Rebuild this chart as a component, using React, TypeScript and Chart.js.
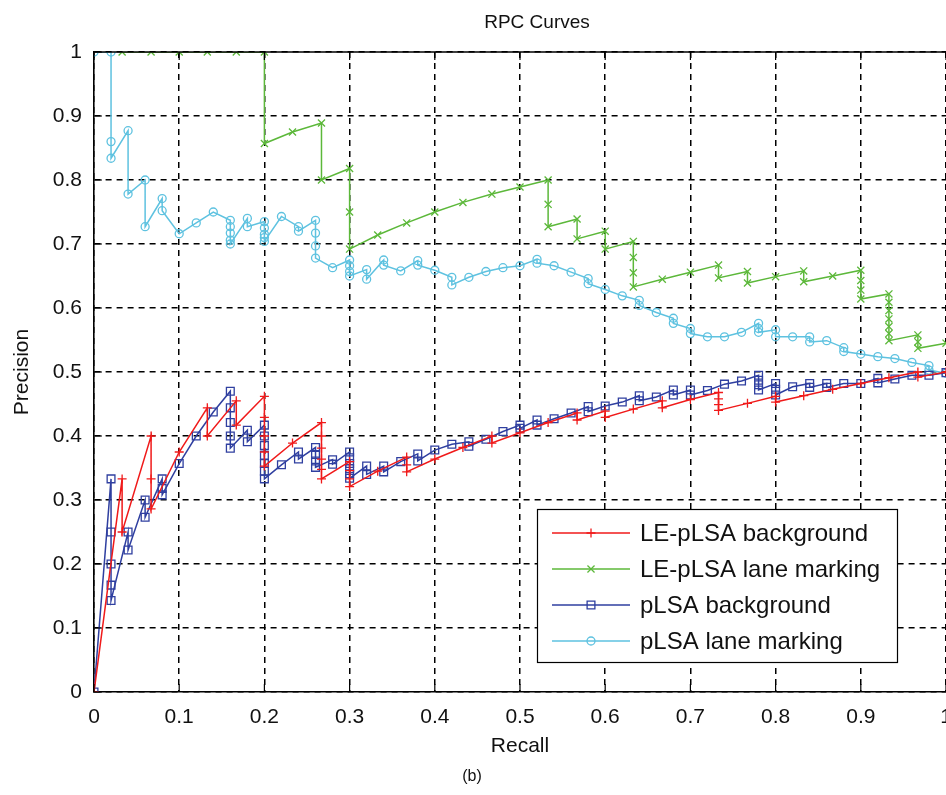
import React, { useEffect, useRef } from "react";
import { Chart, registerables } from "chart.js";

Chart.register(...registerables);

const FONT = '"Liberation Sans", Arial, Helvetica, sans-serif';
const TITLE = "RPC Curves";
const X_LABEL = "Recall";
const Y_LABEL = "Precision";
const CAPTION = "(b)";

const xTicks = [0, 0.1, 0.2, 0.3, 0.4, 0.5, 0.6, 0.7, 0.8, 0.9, 1];
const yTicks = [0, 0.1, 0.2, 0.3, 0.4, 0.5, 0.6, 0.7, 0.8, 0.9, 1];

const seriesNames = [
  "LE-pLSA background",
  "LE-pLSA lane marking",
  "pLSA background",
  "pLSA lane marking",
];
const seriesColors = ["#f01a1a", "#5cb83a", "#2f3fa0", "#5ec2e0"];
const seriesMarkers = ["cross", "crossRot", "rect", "circle"];

// LE-pLSA background (red, +)
const leBgRecall = [
  0, 0.033, 0.033, 0.067, 0.067, 0.067, 0.1, 0.133, 0.133, 0.167, 0.167,
  0.2, 0.2, 0.2, 0.2, 0.2, 0.233, 0.267, 0.267, 0.267, 0.267, 0.267, 0.267,
  0.3, 0.3, 0.3, 0.3, 0.333, 0.367, 0.367, 0.367, 0.4, 0.433, 0.467, 0.467,
  0.5, 0.533, 0.567, 0.567, 0.6, 0.6, 0.633, 0.667, 0.667, 0.7, 0.733, 0.733,
  0.733, 0.733, 0.767, 0.8, 0.8, 0.833, 0.867, 0.9, 0.933, 0.967, 0.967, 1,
];
const leBgPrecision = [
  0, 0.333, 0.25, 0.4, 0.333, 0.286, 0.375, 0.444, 0.4, 0.455, 0.417,
  0.462, 0.429, 0.4, 0.375, 0.353, 0.389, 0.421, 0.4, 0.381, 0.364, 0.348, 0.333,
  0.36, 0.346, 0.333, 0.321, 0.345, 0.367, 0.355, 0.344, 0.364, 0.382, 0.4, 0.389,
  0.405, 0.421, 0.436, 0.425, 0.439, 0.429, 0.442, 0.455, 0.444, 0.457, 0.468, 0.458,
  0.449, 0.44, 0.451, 0.462, 0.453, 0.463, 0.473, 0.482, 0.491, 0.5, 0.492, 0.5,
];

// LE-pLSA lane marking (green, x)
const leLaneRecall = [
  0.033, 0.067, 0.1, 0.133, 0.167, 0.2, 0.2, 0.233, 0.267, 0.267, 0.3, 0.3, 0.3,
  0.333, 0.367, 0.4, 0.433, 0.467, 0.5, 0.533, 0.533, 0.533, 0.567, 0.567, 0.6,
  0.6, 0.633, 0.633, 0.633, 0.633, 0.667, 0.7, 0.733, 0.733, 0.767, 0.767, 0.8,
  0.833, 0.833, 0.867, 0.9, 0.9, 0.9, 0.9, 0.933, 0.933, 0.933, 0.933, 0.933,
  0.933, 0.933, 0.967, 0.967, 0.967, 1,
];
const leLanePrecision = [
  1, 1, 1, 1, 1, 1, 0.857, 0.875, 0.889, 0.8, 0.818, 0.75, 0.692,
  0.714, 0.733, 0.75, 0.765, 0.778, 0.789, 0.8, 0.762, 0.727, 0.739, 0.708, 0.72,
  0.692, 0.704, 0.679, 0.655, 0.633, 0.645, 0.656, 0.667, 0.647, 0.657, 0.639, 0.649,
  0.658, 0.641, 0.65, 0.659, 0.643, 0.628, 0.614, 0.622, 0.609, 0.596, 0.583, 0.571,
  0.56, 0.549, 0.558, 0.547, 0.537, 0.545,
];

// pLSA background (dark blue, squares)
const pBgRecall = [
  0, 0.02, 0.02, 0.02, 0.02, 0.02, 0.04, 0.04, 0.06, 0.06, 0.08, 0.08, 0.08,
  0.1, 0.12, 0.14, 0.16, 0.16, 0.16, 0.16, 0.16, 0.18, 0.18, 0.2, 0.2, 0.2, 0.2,
  0.2, 0.2, 0.2, 0.22, 0.24, 0.24, 0.26, 0.26, 0.26, 0.26, 0.28, 0.28, 0.3, 0.3,
  0.3, 0.3, 0.3, 0.3, 0.32, 0.32, 0.34, 0.34, 0.36, 0.38, 0.38, 0.4, 0.42, 0.44,
  0.44, 0.46, 0.48, 0.5, 0.5, 0.52, 0.52, 0.54, 0.56, 0.58, 0.58, 0.6, 0.62, 0.64,
  0.64, 0.66, 0.68, 0.68, 0.7, 0.7, 0.72, 0.74, 0.76, 0.78, 0.78, 0.78, 0.78, 0.8,
  0.8, 0.8, 0.82, 0.84, 0.84, 0.86, 0.86, 0.88, 0.9, 0.92, 0.92, 0.94, 0.96, 0.98, 1,
];
const pBgPrecision = [
  0, 0.333, 0.25, 0.2, 0.167, 0.143, 0.25, 0.222, 0.3, 0.273, 0.333, 0.318, 0.308,
  0.357, 0.4, 0.4375, 0.47, 0.444, 0.421, 0.4, 0.381, 0.409, 0.391, 0.417, 0.4, 0.385,
  0.37, 0.357, 0.345, 0.333, 0.355, 0.375, 0.364, 0.382, 0.371, 0.361, 0.351, 0.363, 0.356,
  0.375, 0.366, 0.357, 0.349, 0.341, 0.334, 0.353, 0.34, 0.353, 0.344, 0.36, 0.372, 0.361,
  0.378, 0.387, 0.391, 0.384, 0.395, 0.407, 0.417, 0.412, 0.425, 0.417, 0.427, 0.436,
  0.446, 0.438, 0.447, 0.453, 0.463, 0.455, 0.461, 0.472, 0.464, 0.472, 0.464, 0.471,
  0.481, 0.486, 0.495, 0.487, 0.48, 0.472, 0.482, 0.473, 0.464, 0.477, 0.482, 0.476,
  0.482, 0.476, 0.482, 0.482, 0.49, 0.483, 0.489, 0.495, 0.495, 0.499,
];

// pLSA lane marking (light blue, circles)
const pLaneRecall = [
  0, 0.02, 0.02, 0.02, 0.04, 0.04, 0.06, 0.06, 0.08, 0.08, 0.1, 0.12, 0.14, 0.16,
  0.16, 0.16, 0.16, 0.16, 0.18, 0.18, 0.2, 0.2, 0.2, 0.2, 0.2, 0.22, 0.24, 0.24,
  0.26, 0.26, 0.26, 0.26, 0.28, 0.3, 0.3, 0.3, 0.3, 0.32, 0.32, 0.34, 0.34, 0.36,
  0.38, 0.38, 0.4, 0.42, 0.42, 0.44, 0.46, 0.48, 0.5, 0.52, 0.52, 0.54, 0.56, 0.58,
  0.58, 0.6, 0.62, 0.64, 0.64, 0.66, 0.68, 0.68, 0.7, 0.7, 0.72, 0.74, 0.76, 0.78,
  0.78, 0.78, 0.8, 0.8, 0.82, 0.84, 0.84, 0.86, 0.88, 0.88, 0.9, 0.92, 0.94, 0.96,
  0.98, 0.98, 1,
];
const pLanePrecision = [
  1, 1, 0.86, 0.834, 0.877, 0.778, 0.8, 0.727, 0.771, 0.752, 0.716, 0.733, 0.75, 0.737,
  0.727, 0.717, 0.706, 0.7, 0.74, 0.727, 0.735, 0.725, 0.715, 0.71, 0.704, 0.743, 0.727, 0.72,
  0.737, 0.717, 0.697, 0.678, 0.663, 0.675, 0.666, 0.657, 0.65, 0.66, 0.645, 0.675, 0.667, 0.658,
  0.674, 0.667, 0.659, 0.648, 0.636, 0.648, 0.657, 0.663, 0.666, 0.676, 0.67, 0.666, 0.656, 0.646,
  0.638, 0.629, 0.619, 0.612, 0.604, 0.593, 0.584, 0.576, 0.568, 0.56, 0.555, 0.555, 0.562, 0.576,
  0.568, 0.562, 0.566, 0.555, 0.555, 0.555, 0.547, 0.549, 0.538, 0.532, 0.528, 0.524, 0.521, 0.515,
  0.51, 0.503, 0.498,
];

const seriesRecall = [leBgRecall, leLaneRecall, pBgRecall, pLaneRecall];
const seriesPrecision = [leBgPrecision, leLanePrecision, pBgPrecision, pLanePrecision];
const markerRadius = [4.5, 5, 5.5, 4];

function fmt(v: number): string {
  return String(Math.round(v * 10) / 10);
}

function drawMarker(ctx: CanvasRenderingContext2D, style: string, x: number, y: number, r: number, color: string) {
  ctx.save();
  ctx.strokeStyle = color;
  ctx.lineWidth = 1.3;
  ctx.beginPath();
  if (style === "cross") {
    ctx.moveTo(x - r, y); ctx.lineTo(x + r, y);
    ctx.moveTo(x, y - r); ctx.lineTo(x, y + r);
  } else if (style === "crossRot") {
    const d = r * Math.SQRT1_2;
    ctx.moveTo(x - d, y - d); ctx.lineTo(x + d, y + d);
    ctx.moveTo(x - d, y + d); ctx.lineTo(x + d, y - d);
  } else if (style === "rect") {
    const s = r * Math.SQRT1_2;
    ctx.rect(x - s, y - s, 2 * s, 2 * s);
  } else {
    ctx.arc(x, y, r, 0, Math.PI * 2);
  }
  ctx.stroke();
  ctx.restore();
}

const decorPlugin = {
  id: "decor",
  beforeDraw(chart: any) {
    const ctx = chart.ctx;
    ctx.save();
    ctx.fillStyle = "#ffffff";
    ctx.fillRect(0, 0, chart.width, chart.height);
    ctx.restore();
  },
  afterDraw(chart: any) {
    const ctx: CanvasRenderingContext2D = chart.ctx;
    const { left, right, top, bottom } = chart.chartArea;
    const xs = chart.scales.x;
    const ys = chart.scales.y;
    ctx.save();
    // frame top line
    ctx.strokeStyle = "#000";
    ctx.lineWidth = 1.6;
    ctx.beginPath();
    ctx.moveTo(left, top);
    ctx.lineTo(right, top);
    ctx.stroke();
    // inward ticks
    ctx.lineWidth = 1.2;
    ctx.beginPath();
    xTicks.forEach((t) => {
      const px = xs.getPixelForValue(t);
      ctx.moveTo(px, top); ctx.lineTo(px, top + 8);
      ctx.moveTo(px, bottom); ctx.lineTo(px, bottom - 8);
    });
    yTicks.forEach((t) => {
      const py = ys.getPixelForValue(t);
      ctx.moveTo(left, py); ctx.lineTo(left + 8, py);
    });
    ctx.stroke();

    // title and axis titles
    ctx.fillStyle = "#111";
    ctx.textAlign = "center";
    ctx.textBaseline = "middle";
    ctx.font = `19px ${FONT}`;
    ctx.fillText(TITLE, (left + right) / 2 + 17, 23);
    ctx.font = `21px ${FONT}`;
    ctx.fillText(X_LABEL, (left + right) / 2, 746);
    ctx.save();
    ctx.translate(22, (top + bottom) / 2);
    ctx.rotate(-Math.PI / 2);
    ctx.fillText(Y_LABEL, 0, 0);
    ctx.restore();
    ctx.font = `16px ${FONT}`;
    ctx.fillText(CAPTION, 472, 777);

    // legend
    const bx = 537, by = 509, bw = 360, bh = 153;
    ctx.fillStyle = "#fff";
    ctx.fillRect(bx, by, bw, bh);
    ctx.strokeStyle = "#000";
    ctx.lineWidth = 1.2;
    ctx.strokeRect(bx + 0.5, by + 0.5, bw, bh);
    ctx.font = `24px ${FONT}`;
    ctx.textAlign = "left";
    seriesNames.forEach((name, i) => {
      const cy = by + 24 + i * 36;
      ctx.strokeStyle = seriesColors[i];
      ctx.lineWidth = 1.4;
      ctx.beginPath();
      ctx.moveTo(552, cy);
      ctx.lineTo(630, cy);
      ctx.stroke();
      drawMarker(ctx, seriesMarkers[i], 591, cy, markerRadius[i], seriesColors[i]);
      ctx.fillStyle = "#111";
      ctx.fillText(name, 640, cy + 1);
    });
    ctx.restore();
  },
};

export default function App() {
  const ref = useRef<HTMLCanvasElement | null>(null);
  useEffect(() => {
    document.body.style.margin = "0";
    const canvas = ref.current;
    if (!canvas) return;
    const datasets = seriesNames.map((name, i) => ({
      label: name,
      data: seriesRecall[i].map((x, j) => ({ x, y: seriesPrecision[i][j] })),
      showLine: true,
      borderColor: seriesColors[i],
      backgroundColor: seriesColors[i],
      borderWidth: 1.5,
      tension: 0,
      pointStyle: seriesMarkers[i],
      pointRadius: markerRadius[i],
      pointHoverRadius: markerRadius[i],
      pointBorderWidth: 1.3,
      pointBorderColor: seriesColors[i],
      pointBackgroundColor: "rgba(0,0,0,0)",
      order: i,
    }));
    const chart = new Chart(canvas, {
      type: "scatter",
      data: { datasets },
      options: {
        animation: false,
        responsive: false,
        devicePixelRatio: 1,
        layout: { autoPadding: false, padding: { top: 52, right: 0, left: 0, bottom: 0 } },
        plugins: {
          legend: { display: false },
          title: { display: false },
          tooltip: { enabled: false },
        },
        scales: {
          x: {
            type: "linear",
            min: 0,
            max: 1,
            afterBuildTicks: (s: any) => { s.ticks = xTicks.map((v) => ({ value: v })); },
            ticks: {
              padding: 13,
              color: "#111",
              font: { family: FONT, size: 21 },
              maxRotation: 0,
              autoSkip: false,
              callback: (v: any) => fmt(Number(v)),
            },
            grid: { color: "#000", lineWidth: 1.5, drawTicks: false },
            border: { display: true, color: "#000", width: 1.6, dash: [6, 5] },
            afterFit: (s: any) => { s.height = 103; s.paddingLeft = 0; s.paddingRight = 0; },
          },
          y: {
            type: "linear",
            min: 0,
            max: 1,
            afterBuildTicks: (s: any) => { s.ticks = yTicks.map((v) => ({ value: v })); },
            ticks: {
              padding: 12,
              color: "#111",
              font: { family: FONT, size: 21 },
              autoSkip: false,
              callback: (v: any) => fmt(Number(v)),
            },
            grid: { color: "#000", lineWidth: 1.5, drawTicks: false },
            border: { display: true, color: "#000", width: 1.6, dash: [6, 5] },
            afterFit: (s: any) => { s.width = 94; s.paddingTop = 0; s.paddingBottom = 0; },
          },
        },
      },
      plugins: [decorPlugin],
    } as any);
    return () => chart.destroy();
  }, []);
  return (
    <div style={{ width: 946, height: 795 }}>
      <canvas ref={ref} width={946} height={795} style={{ display: "block", width: 946, height: 795 }} />
    </div>
  );
}
